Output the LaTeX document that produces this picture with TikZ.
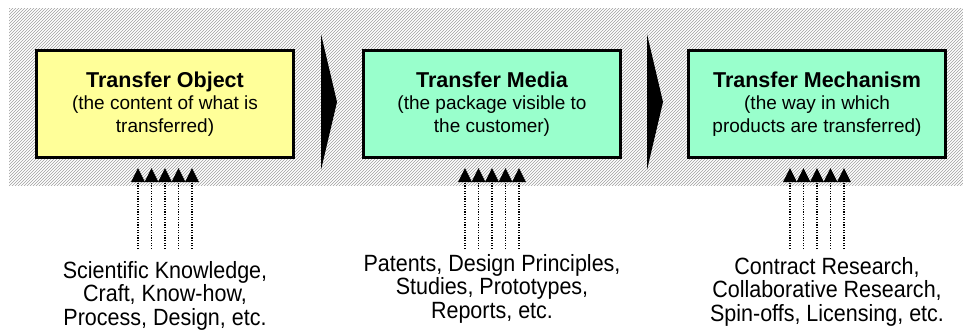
\documentclass[tikz,border=0pt]{standalone}
\usepackage{fontspec}
\setmainfont{Liberation Sans}
\newfontfamily\strettofont[FakeStretch=0.915]{Liberation Sans}
\usepackage{xcolor}
\usepackage{tikz}
\usetikzlibrary{
	positioning,    % nodi relativi (right=of, below=of)
	arrows.meta,    % punte Triangle
	patterns        % tratteggio dello sfondo
}

\definecolor{oggettogiallo}{RGB}{255,255,153}
\definecolor{mediaverde}{RGB}{153,255,204}

\tikzset{
	fasebox/.style={draw=black, line width=3pt, minimum width=257pt,
		minimum height=107pt, align=center, inner sep=0pt,
		font=\fontsize{19}{22.5}\selectfont},
	ingresso/.style={align=center, inner sep=0pt,
		font=\strettofont\fontsize{23.5}{23.7}\selectfont},
	freccinput/.style={-{Triangle[width=13.5pt,length=14pt]}, line width=1.1pt,
		dash pattern=on 1.3pt off 1.3pt, shorten >=9pt}
}

\begin{document}
\begin{tikzpicture}[x=1pt, y=-1pt]
		% Definizioni
		\def\passo{13.5} % distanza fra le frecce
		\def\coda{90}    % lunghezza delle frecce sotto i riquadri
		
		\useasboundingbox (0,0) rectangle (963,333);
		
		% --- Sfondo tratteggiato ---
		\fill[pattern=north east lines, pattern color=gray!75] (9,8) rectangle (963,185);
		
		% --- Riquadri ---
		\node[fasebox, fill=oggettogiallo] (oggetto) at (165,104)
		{{\bfseries\fontsize{21.5}{22.5}\selectfont Transfer Object}\\(the content of what is\\transferred)};
		\node[fasebox, fill=mediaverde, right=67pt of oggetto] (media)
		{{\bfseries\fontsize{21.5}{22.5}\selectfont Transfer Media}\\(the package visible to\\the customer)};
		\node[fasebox, fill=mediaverde, right=65pt of media] (meccanismo)
		{{\bfseries\fontsize{21.5}{22.5}\selectfont Transfer Mechanism}\\(the way in which\\products are transferred)};
		
		% --- Frecce nere fra i riquadri ---
		\fill (321,34) -- (337,102) -- (321,170) -- cycle;
		\fill (647,34) -- (663,102) -- (647,170) -- cycle;
		
		% --- Ingressi ---
		\coordinate[below=\coda pt of oggetto] (codaoggetto);
		\coordinate[below=\coda pt of media] (codamedia);
		\coordinate[below=\coda pt of meccanismo] (codameccanismo);
		
		\node[ingresso, below=12pt of codaoggetto] (testooggetto)
		{Scientific Knowledge,\\Craft, Know-how,\\Process, Design, etc.};
		\node[ingresso, below=5pt of codamedia] (testomedia)
		{Patents, Design Principles,\\Studies, Prototypes,\\Reports, etc.};
		\node[ingresso, below=8pt of codameccanismo, xshift=10pt] (testomeccanismo)
		{Contract Research,\\Collaborative Research,\\Spin-offs, Licensing, etc.};
		
		% Cinque frecce puntinate per ogni riquadro
		\foreach \f in {oggetto, media, meccanismo}
		\foreach \k in {-2,...,2}
		\draw[freccinput] ([xshift=\k*\passo pt]coda\f) -- ([xshift=\k*\passo pt]\f.south);
	\end{tikzpicture}
\end{document}
